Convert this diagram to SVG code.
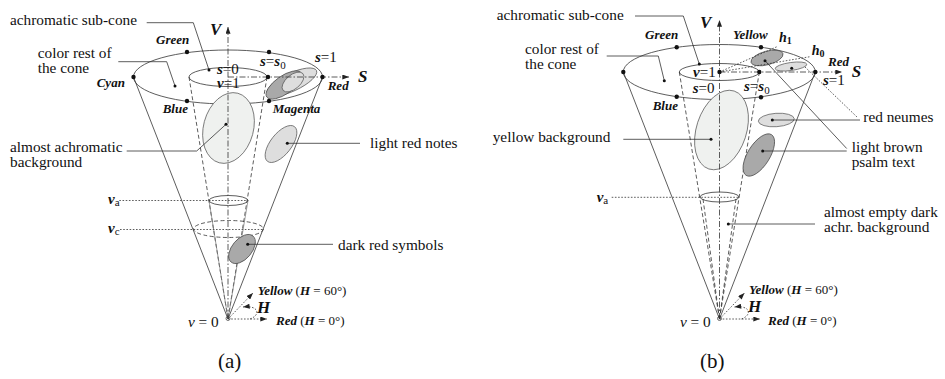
<svg xmlns="http://www.w3.org/2000/svg" width="945" height="379" viewBox="0 0 945 379">
<style>
text{font-family:"Liberation Serif","Times New Roman",serif;fill:#111}
.t{font-size:15.3px}
.c{font-size:13px;font-weight:bold;font-style:italic}
.bi{font-weight:bold;font-style:italic}
.it{font-style:italic}
.ax{font-size:17px;font-weight:bold;font-style:italic}
.eq{font-size:15px}
.cap{font-size:21px}
.ln{stroke:#333;stroke-width:0.8;fill:none}
.lg{stroke:#777;stroke-width:0.7;fill:none}
.da{stroke-dasharray:4 2.5}
.dt{stroke-dasharray:1.6 1.6}
.dd{stroke:#333;stroke-width:0.8;fill:none;stroke-dasharray:6 2 1.5 2}
.e0{fill:#eff1ef;stroke:#555;stroke-width:0.7}
.e1{fill:#dedede;stroke:#555;stroke-width:0.7}
.e2{fill:#a9a9a9;stroke:#444;stroke-width:0.7}
</style>
<defs>
<marker id="ah" viewBox="0 0 8 6" refX="8" refY="3" markerWidth="7" markerHeight="5" orient="auto" markerUnits="userSpaceOnUse"><path d="M0,0 L8,3 L0,6 z" fill="#222"/></marker>
<circle id="pt" r="2.2" fill="#111"/>
</defs>

<!-- ================= PANEL (a) ================= -->
<g id="a-cone">
<ellipse cx="228" cy="77" rx="94.5" ry="27" class="ln"/>
<line x1="133.5" y1="77" x2="228" y2="319" class="ln"/>
<line x1="322.5" y1="77" x2="228" y2="319" class="ln"/>
<ellipse cx="228" cy="77" rx="39" ry="9.5" class="ln"/>
<line x1="189" y1="77" x2="228" y2="319" class="ln da"/>
<line x1="267" y1="77" x2="228" y2="319" class="ln da"/>
<line x1="209" y1="200.5" x2="228" y2="319" class="lg"/>
<line x1="248" y1="200.5" x2="228" y2="319" class="lg"/>
<ellipse cx="228.5" cy="200.5" rx="19.5" ry="5" class="ln" stroke-width="0.6"/>
<ellipse cx="228.5" cy="229" rx="35" ry="8.5" class="ln da"/>
</g>
<g id="a-regions">
<ellipse cx="228.5" cy="128" rx="25" ry="36" transform="rotate(15 228.5 128)" class="e0"/>
<ellipse cx="281" cy="144" rx="10.5" ry="22" transform="rotate(38 281 144)" class="e1"/>
<ellipse cx="242" cy="249" rx="10" ry="17" transform="rotate(40 242 249)" class="e2"/>
<ellipse cx="292" cy="82" rx="27" ry="9" transform="rotate(-25 292 82)" class="e1"/>
<ellipse cx="284" cy="85" rx="21" ry="9" transform="rotate(-35 284 85)" class="e2"/>
<ellipse cx="293" cy="82" rx="13" ry="7" transform="rotate(-40 293 82)" class="e1"/>
</g>
<g id="a-axes">
<line x1="228" y1="319" x2="228" y2="27" class="dd" marker-end="url(#ah)"/>
<line x1="228" y1="77" x2="349" y2="77" class="dd" marker-end="url(#ah)"/>
<line x1="228" y1="319" x2="253" y2="293" class="ln dt" marker-end="url(#ah)"/>
<line x1="228" y1="319" x2="267" y2="319" class="ln dt" marker-end="url(#ah)"/>
<path d="M250,319 C261,315 259,305 243,307" class="ln dt" marker-end="url(#ah)"/>
<circle cx="228" cy="318.5" r="2" fill="none" stroke="#333" stroke-width="0.7"/>
</g>
<g id="a-points">
<use href="#pt" x="187" y="52"/><use href="#pt" x="269" y="52"/>
<use href="#pt" x="187" y="101"/><use href="#pt" x="269" y="101"/>
<use href="#pt" x="133.5" y="77"/><use href="#pt" x="322.5" y="77"/>
<use href="#pt" x="268" y="77"/>
</g>
<g id="a-connectors">
<polyline points="146.7,22.7 193.3,22.7 209,70" class="ln"/>
<polyline points="118.3,61.7 166.7,61.7 175,86" class="ln"/>
<polyline points="126.7,151 196.7,151 226,124.3" class="ln"/>
<line x1="287.3" y1="143.3" x2="360" y2="143.3" class="ln"/>
<line x1="247.7" y1="244.3" x2="333" y2="244.3" class="ln"/>
<line x1="119.3" y1="200.5" x2="248" y2="200.5" class="ln dt"/>
<line x1="120" y1="229.5" x2="263" y2="229.5" class="ln dt"/>
<circle cx="209" cy="70" r="1.5" fill="#111"/>
<circle cx="175" cy="86" r="1.5" fill="#111"/>
<circle cx="226" cy="124.3" r="1.5" fill="#111"/>
<circle cx="287.3" cy="143.3" r="1.5" fill="#111"/>
<circle cx="247.7" cy="244.3" r="1.5" fill="#111"/>
</g>
<g id="a-labels">
<text x="10" y="25" class="t">achromatic sub-cone</text>
<text x="37.7" y="58" class="t">color rest of</text>
<text x="37.7" y="73" class="t">the cone</text>
<text x="156" y="44" class="c">Green</text>
<text x="96.7" y="87" class="c">Cyan</text>
<text x="162.7" y="113" class="c">Blue</text>
<text x="327.7" y="90" class="c">Red</text>
<text x="272.7" y="113" class="c">Magenta</text>
<text x="210" y="35" class="ax">V</text>
<text x="358" y="82" class="ax">S</text>
<text x="217" y="73.5" class="eq"><tspan class="bi">s</tspan>=0</text>
<text x="217" y="87.5" class="eq"><tspan class="bi">v</tspan>=1</text>
<text x="260" y="66" class="eq"><tspan class="bi">s</tspan>=<tspan class="bi">s</tspan><tspan font-size="11" dy="3">0</tspan></text>
<text x="315" y="62" class="eq"><tspan class="bi">s</tspan>=1</text>
<text x="10" y="151.5" class="t">almost achromatic</text>
<text x="10" y="166.5" class="t">background</text>
<text x="370" y="148" class="t">light red notes</text>
<text x="108" y="204" class="eq"><tspan class="bi">v</tspan><tspan font-size="11" dy="2">a</tspan></text>
<text x="108" y="233" class="eq"><tspan class="bi">v</tspan><tspan font-size="11" dy="2">c</tspan></text>
<text x="338" y="250" class="t">dark red symbols</text>
<text x="188" y="327" class="t"><tspan class="it">v</tspan> = 0</text>
<text x="257.7" y="295" font-size="13"><tspan class="bi">Yellow</tspan> (<tspan class="bi">H</tspan> = 60°)</text>
<text x="257" y="313" class="ax">H</text>
<text x="276" y="325" font-size="13"><tspan class="bi">Red</tspan> (<tspan class="bi">H</tspan> = 0°)</text>
<text x="218" y="368" class="cap">(a)</text>
</g>

<!-- ================= PANEL (b) ================= -->
<g id="b-cone">
<ellipse cx="719.3" cy="72" rx="96" ry="27.5" class="ln"/>
<line x1="623.3" y1="72" x2="719.5" y2="319" class="ln"/>
<line x1="815.3" y1="72" x2="719.5" y2="319" class="ln"/>
<ellipse cx="719.3" cy="72" rx="40" ry="8.5" class="ln"/>
<line x1="679.3" y1="72" x2="719.5" y2="319" class="ln da"/>
<line x1="759.3" y1="72" x2="719.5" y2="319" class="ln da"/>
<line x1="703" y1="199" x2="719.5" y2="319" class="ln da"/>
<line x1="736" y1="199" x2="719.5" y2="319" class="ln da"/>
<ellipse cx="719.5" cy="197" rx="19.5" ry="5" class="ln" stroke-width="0.6"/>
</g>
<g id="b-regions">
<ellipse cx="721.5" cy="130" rx="25" ry="41" transform="rotate(18 721.5 130)" class="e0"/>
<ellipse cx="776.3" cy="120" rx="18" ry="6.7" transform="rotate(-4 776.3 120)" class="e1"/>
<ellipse cx="758.8" cy="155" rx="11" ry="24" transform="rotate(32 758.8 155)" class="e2"/>
<ellipse cx="767" cy="58" rx="16.5" ry="6.8" transform="rotate(-15 767 58)" class="e2"/>
<ellipse cx="791" cy="66.5" rx="16" ry="4" transform="rotate(-8 791 66.5)" class="e1"/>
</g>
<g id="b-axes">
<line x1="719.5" y1="319" x2="719.5" y2="20" class="dd" marker-end="url(#ah)"/>
<line x1="719.5" y1="72" x2="842" y2="72" class="dd" marker-end="url(#ah)"/>
<line x1="719.5" y1="72" x2="777" y2="46.7" class="ln dt"/>
<line x1="719.5" y1="72" x2="810" y2="56.7" class="ln dt"/>
<line x1="719.5" y1="319" x2="744.5" y2="293" class="ln dt" marker-end="url(#ah)"/>
<line x1="719.5" y1="319" x2="760" y2="319" class="ln dt" marker-end="url(#ah)"/>
<path d="M741.5,319 C752.5,315 750.5,305 734.5,307" class="ln dt" marker-end="url(#ah)"/>
<circle cx="719.5" cy="318.5" r="2" fill="none" stroke="#333" stroke-width="0.7"/>
</g>
<g id="b-points">
<use href="#pt" x="676.7" y="47.3"/><use href="#pt" x="761" y="47.3"/>
<use href="#pt" x="676.7" y="96.7"/><use href="#pt" x="761" y="97.3"/>
<use href="#pt" x="623.3" y="72"/><use href="#pt" x="815.3" y="72"/>
<use href="#pt" x="719.5" y="72"/><use href="#pt" x="759.3" y="72"/>
</g>
<g id="b-connectors">
<polyline points="635,16 683.3,16 699.3,64" class="ln"/>
<polyline points="606.7,56 658.3,56 664.3,80.7" class="ln"/>
<line x1="623.3" y1="139.3" x2="711" y2="139.3" class="ln"/>
<line x1="772.3" y1="120" x2="860" y2="120" class="ln"/>
<line x1="762.7" y1="151" x2="846.7" y2="151" class="ln"/>
<line x1="765" y1="60.7" x2="846.7" y2="148.5" class="ln" stroke-width="0.6"/>
<line x1="805" y1="67" x2="857" y2="117" class="ln dt"/>
<line x1="728.3" y1="224" x2="815" y2="224" class="ln"/>
<line x1="611.7" y1="197.3" x2="739" y2="197.3" class="ln dt"/>
<circle cx="699.3" cy="64" r="1.5" fill="#111"/>
<circle cx="664.3" cy="80.7" r="1.5" fill="#111"/>
<circle cx="711" cy="139.3" r="1.5" fill="#111"/>
<circle cx="772.3" cy="120" r="1.5" fill="#111"/>
<circle cx="762.7" cy="151" r="1.5" fill="#111"/>
<circle cx="765" cy="60.7" r="1.5" fill="#111"/>
<circle cx="791.7" cy="68.3" r="1.5" fill="#111"/>
<circle cx="728.3" cy="224" r="1.5" fill="#111"/>
</g>
<g id="b-labels">
<text x="496.7" y="20" class="t">achromatic sub-cone</text>
<text x="525" y="53.5" class="t">color rest of</text>
<text x="525" y="68.5" class="t">the cone</text>
<text x="645" y="39" class="c">Green</text>
<text x="733" y="39" class="c">Yellow</text>
<text x="652.7" y="110" class="c">Blue</text>
<text x="828" y="65.5" class="c">Red</text>
<text x="700" y="28" class="ax">V</text>
<text x="851.7" y="77" class="ax">S</text>
<text x="779" y="42" font-size="14"><tspan class="bi">h</tspan><tspan font-size="10" dy="2" font-weight="bold">1</tspan></text>
<text x="811.7" y="55" font-size="14"><tspan class="bi">h</tspan><tspan font-size="10" dy="2" font-weight="bold">0</tspan></text>
<text x="693" y="77" class="eq"><tspan class="bi">v</tspan>=1</text>
<text x="692.7" y="93" class="eq"><tspan class="bi">s</tspan>=0</text>
<text x="744" y="91" class="eq"><tspan class="bi">s</tspan>=<tspan class="bi">s</tspan><tspan font-size="11" dy="3">0</tspan></text>
<text x="823" y="85" class="eq"><tspan class="bi">s</tspan>=1</text>
<text x="492.7" y="142" class="t">yellow background</text>
<text x="863.3" y="122" class="t">red neumes</text>
<text x="851.7" y="152" class="t">light brown</text>
<text x="851.7" y="167" class="t">psalm text</text>
<text x="596.7" y="202" class="eq"><tspan class="bi">v</tspan><tspan font-size="11" dy="2">a</tspan></text>
<text x="824" y="216.5" class="t">almost empty dark</text>
<text x="824" y="231.5" class="t">achr. background</text>
<text x="680" y="327" class="t"><tspan class="it">v</tspan> = 0</text>
<text x="749" y="294" font-size="13"><tspan class="bi">Yellow</tspan> (<tspan class="bi">H</tspan> = 60°)</text>
<text x="748" y="312" class="ax">H</text>
<text x="768" y="325" font-size="13"><tspan class="bi">Red</tspan> (<tspan class="bi">H</tspan> = 0°)</text>
<text x="700" y="368" class="cap">(b)</text>
</g>
</svg>
